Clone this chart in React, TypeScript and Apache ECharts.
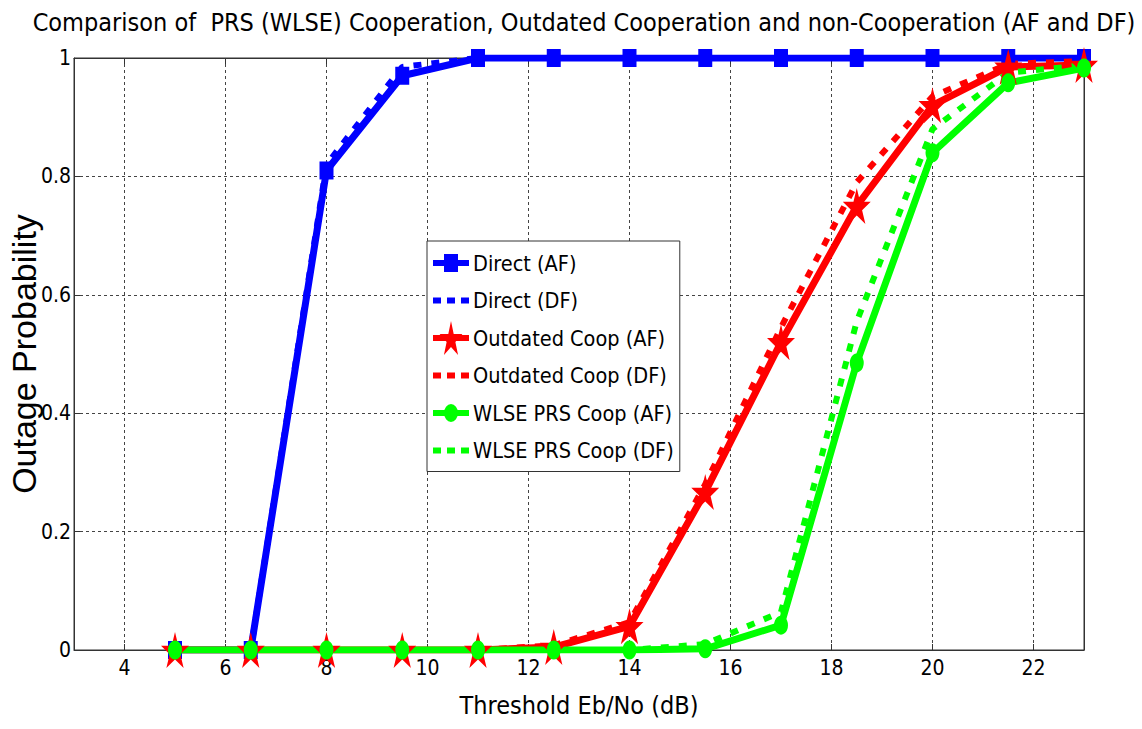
import React, { useEffect, useRef } from 'react';
import * as echarts from 'echarts';

const xValues = [5, 6.5, 8, 9.5, 11, 12.5, 14, 15.5, 17, 18.5, 20, 21.5, 23];
const directAF = [0, 0, 0.81, 0.97, 1, 1, 1, 1, 1, 1, 1, 1, 1];
const directDF = [0, 0, 0.82, 0.985, 1, 1, 1, 1, 1, 1, 1, 1, 1];
const outdatedAF = [0, 0, 0, 0, 0, 0.005, 0.04, 0.267, 0.52, 0.75, 0.92, 0.985, 0.988];
const outdatedDF = [0, 0, 0, 0, 0, 0.008, 0.047, 0.28, 0.545, 0.79, 0.935, 0.99, 0.995];
const wlseAF = [0, 0, 0, 0, 0, 0, 0, 0.002, 0.042, 0.485, 0.84, 0.958, 0.983];
const wlseDF = [0, 0, 0, 0, 0, 0, 0, 0.01, 0.064, 0.555, 0.88, 0.975, 0.988];
const xTickValues = [4, 6, 8, 10, 12, 14, 16, 18, 20, 22];
const seriesNames = [
  'Direct (AF)',
  'Direct (DF)',
  'Outdated Coop (AF)',
  'Outdated Coop (DF)',
  'WLSE PRS Coop (AF)',
  'WLSE PRS Coop (DF)',
];

const BLUE = '#0000ff';
const RED = '#ff0000';
const GREEN = '#00ff00';
const NARROW = '"Liberation Sans Narrow", "DejaVu Sans Condensed", "Liberation Sans", Arial, sans-serif';
const SANS = '"Liberation Sans", Arial, sans-serif';

const STAR = 'path://M50,0L61.2,34.5L97.6,34.5L68.2,55.9L79.4,90.5L50,69.1L20.6,90.5L31.8,55.9L2.4,34.5L38.8,34.5Z';
const BOX = 'M0,0M36,34';
const ICON_SQUARE = 'path://' + BOX + 'M0,14H36V20H0ZM11,8H25V26H11Z';
const ICON_DOTS = 'path://' + BOX + 'M0,14H8V20H0ZM14,14H22V20H14ZM28,14H36V20H28Z';
const ICON_STAR = 'path://' + BOX + 'M0,14H36V20H0ZM18,0L20.69,12.96L29.42,12.96L22.37,21L25.06,34L18,25.96L10.94,34L13.63,21L6.58,12.96L15.31,12.96Z';
const ICON_CIRCLE = 'path://' + BOX + 'M0,14H36V20H0ZM11,17A7,9 0 1,1 25,17A7,9 0 1,1 11,17Z';

function pairs(ys: number[]) {
  return xValues.map((x, i) => [x, ys[i]]);
}

export default function App() {
  const ref = useRef<HTMLDivElement>(null);
  useEffect(() => {
    if (!ref.current) return;
    const chart = echarts.init(ref.current, null, { renderer: 'svg' });
    const solid = (name: string, color: string, ys: number[], symbol: string, size: number[]) => ({
      name,
      type: 'line',
      data: pairs(ys),
      symbol,
      symbolSize: size,
      showAllSymbol: true,
      color,
      itemStyle: { color },
      lineStyle: { color, width: 7 },
      emphasis: { disabled: true },
    });
    const dotted = (name: string, color: string, ys: number[]) => ({
      name,
      type: 'line',
      data: pairs(ys),
      symbol: 'none',
      color,
      itemStyle: { color },
      lineStyle: { color, width: 6, type: [8, 10], cap: 'butt' },
      emphasis: { disabled: true },
    });
    const axisLineStyle = { color: '#333', width: 1 };
    chart.setOption({
      animation: false,
      backgroundColor: '#fff',
      title: {
        text: 'Comparison of  PRS (WLSE) Cooperation, Outdated Cooperation and non-Cooperation (AF and DF)',
        left: 579,
        textAlign: 'center',
        top: 5,
        textStyle: { fontFamily: NARROW, fontSize: 25, fontWeight: 'normal', color: '#000' },
      },
      grid: {
        left: 74,
        right: 58,
        top: 58,
        bottom: 79,
        outerBoundsMode: 'none',
        containLabel: false,
        show: true,
        borderColor: '#333',
        borderWidth: 1,
        backgroundColor: '#fff',
      },
      legend: {
        orient: 'vertical',
        left: 427,
        top: 241,
        padding: [5, 6, 4, 6],
        itemWidth: 36,
        itemHeight: 34,
        itemGap: 3.5,
        backgroundColor: '#fff',
        borderColor: '#333',
        borderWidth: 1,
        selectedMode: false,
        textStyle: { fontFamily: NARROW, fontSize: 21.5, color: '#000', padding: [0, 0, 0, -1] },
        data: [
          { name: seriesNames[0], icon: ICON_SQUARE, itemStyle: { color: BLUE, borderWidth: 0 } },
          { name: seriesNames[1], icon: ICON_DOTS, itemStyle: { color: BLUE, borderWidth: 0 } },
          { name: seriesNames[2], icon: ICON_STAR, itemStyle: { color: RED, borderWidth: 0 } },
          { name: seriesNames[3], icon: ICON_DOTS, itemStyle: { color: RED, borderWidth: 0 } },
          { name: seriesNames[4], icon: ICON_CIRCLE, itemStyle: { color: GREEN, borderWidth: 0 } },
          { name: seriesNames[5], icon: ICON_DOTS, itemStyle: { color: GREEN, borderWidth: 0 } },
        ],
      },
      xAxis: [
        {
          type: 'value',
          min: 3,
          max: 23,
          name: 'Threshold Eb/No (dB)',
          nameLocation: 'middle',
          nameGap: 43,
          nameMoveOverlap: false,
          nameTextStyle: { fontFamily: NARROW, fontSize: 25, color: '#000' },
          axisLine: { show: true, onZero: false, lineStyle: axisLineStyle },
          axisTick: { show: true, inside: true, length: 6, lineStyle: axisLineStyle, customValues: xTickValues },
          axisLabel: { fontFamily: NARROW, fontSize: 21, color: '#000', margin: 7, customValues: xTickValues },
          splitLine: { show: true, lineStyle: { color: '#444', type: [3, 3], width: 1 } },
        },
        {
          type: 'value',
          position: 'top',
          min: 3,
          max: 23,
          axisLine: { show: true, onZero: false, lineStyle: axisLineStyle },
          axisTick: { show: true, inside: true, length: 6, lineStyle: axisLineStyle, customValues: xTickValues },
          axisLabel: { show: false, customValues: xTickValues },
          splitLine: { show: false },
        },
      ],
      yAxis: [
        {
          type: 'value',
          min: 0,
          max: 1,
          interval: 0.2,
          name: 'Outage Probability',
          nameLocation: 'middle',
          nameGap: 33,
          nameMoveOverlap: false,
          nameTextStyle: { fontFamily: SANS, fontSize: 34, color: '#000' },
          axisLine: { show: true, onZero: false, lineStyle: axisLineStyle },
          axisTick: { show: true, inside: true, length: 6, lineStyle: axisLineStyle },
          axisLabel: { fontFamily: NARROW, fontSize: 21, color: '#000', margin: 3 },
          splitLine: { show: true, lineStyle: { color: '#444', type: [3, 3], width: 1 } },
        },
        {
          type: 'value',
          position: 'right',
          min: 0,
          max: 1,
          interval: 0.2,
          axisLine: { show: true, onZero: false, lineStyle: axisLineStyle },
          axisTick: { show: true, inside: true, length: 6, lineStyle: axisLineStyle },
          axisLabel: { show: false },
          splitLine: { show: false },
        },
      ],
      series: [
        solid(seriesNames[0], BLUE, directAF, 'rect', [14, 18]),
        dotted(seriesNames[1], BLUE, directDF),
        solid(seriesNames[2], RED, outdatedAF, STAR, [28, 36]),
        dotted(seriesNames[3], RED, outdatedDF),
        solid(seriesNames[4], GREEN, wlseAF, 'circle', [14, 19]),
        dotted(seriesNames[5], GREEN, wlseDF),
      ],
    });
    return () => chart.dispose();
  }, []);
  return (
    <div
      ref={ref}
      style={{ position: 'fixed', left: 0, top: 0, width: 1142, height: 729, background: '#fff' }}
    />
  );
}
